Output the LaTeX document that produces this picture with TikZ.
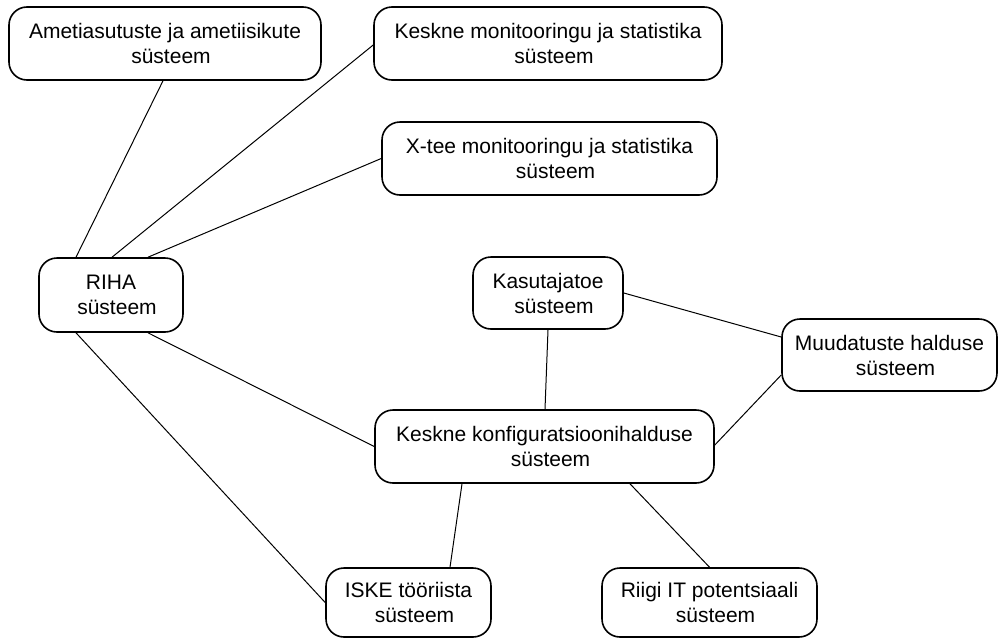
\documentclass[tikz,border=0pt]{standalone}
\usepackage{fontspec}
\setmainfont{Liberation Sans}
\usetikzlibrary{calc}
\begin{document}
\begin{tikzpicture}[x=1pt,y=-1pt,
  sysbox/.style={draw, line width=1.6pt, rounded corners=18pt, align=center, inner sep=0pt,
    font=\fontsize{21}{25}\selectfont},
  link/.style={draw, line width=1pt}]
\useasboundingbox (0,0) rectangle (1000,640);
\newcommand{\sy}{\hspace*{12pt}süsteem}
\node[sysbox, minimum width=312pt, minimum height=73pt] (ame) at (165,43.5) {Ametiasutuste ja ametiisikute\\\sy};
\node[sysbox, minimum width=348pt, minimum height=73pt] (kmon) at (548,43.5) {Keskne monitooringu ja statistika\\\sy};
\node[sysbox, minimum width=335pt, minimum height=73pt] (xtee) at (549.5,158.5) {X-tee monitooringu ja statistika\\\sy};
\node[sysbox, minimum width=144pt, minimum height=74pt] (riha) at (111,295) {RIHA\\\sy};
\node[sysbox, minimum width=150pt, minimum height=72pt] (kasu) at (548,293) {Kasutajatoe\\\sy};
\node[sysbox, minimum width=215pt, minimum height=72pt] (muud) at (889.5,355) {Muudatuste halduse\\\sy};
\node[sysbox, minimum width=339pt, minimum height=73pt] (kkonf) at (544.5,446.5) {Keskne konfiguratsioonihalduse\\\sy};
\node[sysbox, minimum width=165pt, minimum height=69pt] (iske) at (408.5,602.5) {ISKE tööriista\\\sy};
\node[sysbox, minimum width=215pt, minimum height=69pt] (riigi) at (709.5,602.5) {Riigi IT potentsiaali\\\sy};
\draw[link] ([xshift=-35pt]riha.north) -- ([xshift=-2pt]ame.south);
\draw[link] ([xshift=1pt]riha.north) -- ([yshift=-1.5pt]kmon.west);
\draw[link] ([xshift=37pt]riha.north) -- (xtee.west);
\draw[link] ([xshift=37pt]riha.south) -- (kkonf.west);
\draw[link] ([xshift=-35pt]riha.south) -- (iske.west);
\draw[link] (kasu.south) -- ([xshift=0.5pt]kkonf.north);
\draw[link] (kasu.east) -- ([yshift=18pt]muud.west);
\draw[link] ([yshift=-20pt]muud.west) -- ([yshift=1.5pt]kkonf.east);
\draw[link] ([xshift=-82.5pt]kkonf.south) -- ([xshift=41.5pt]iske.north);
\draw[link] ([xshift=85.5pt]kkonf.south) -- (riigi.north);
\end{tikzpicture}
\end{document}
